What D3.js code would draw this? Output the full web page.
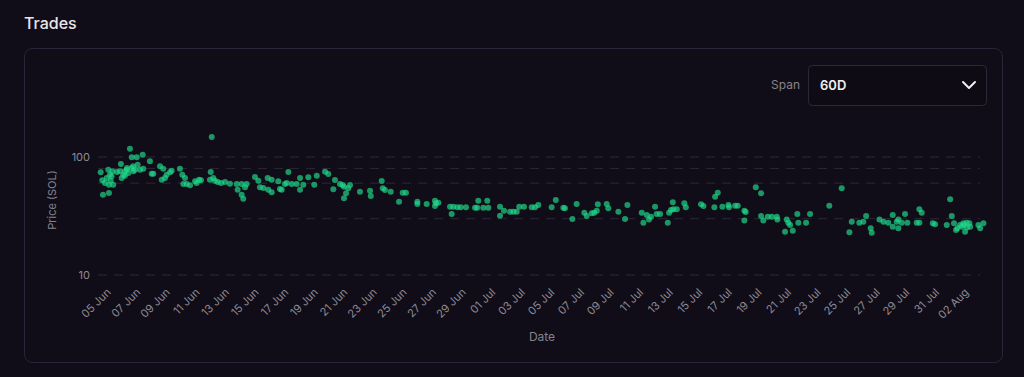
<!DOCTYPE html>
<html lang="en">
<head>
<meta charset="UTF-8">
<title>Trades</title>
<script src="https://d3js.org/d3.v7.min.js"></script>
<style>
    body { margin: 0; background: #110d18; font-family: Inter, "Noto Sans", sans-serif; }
    svg { display: block; }
    .tick text { fill: #8d8a94; font-size: 11px; font-family: Inter, sans-serif; }
    .domain { display: none; }
</style>
</head>
<body>
<svg width="1024" height="377"></svg>
<script>
    // trades: [days since 05 Jun, price in SOL]
    const startDate = new Date(2024, 5, 5);
    const trades = [
        [-0.63,74.2],[-0.52,63.5],[-0.47,47.9],[-0.07,49.5],[-0.11,78.0],[0,70.8],[-0.22,66.4],[-0.34,60.2],
        [0.11,68.6],[0.22,58.3],[0.05,63.0],[-0.07,58.3],[0.16,75.6],[0.74,87.2],[0.68,75.6],[0.79,66.4],
        [0.90,70.8],[1.01,75.6],[1.13,78.0],[1.24,73.2],[1.35,117.6],[1.47,99.4],[1.81,99.4],[1.47,80.7],
        [1.58,75.6],[1.69,78.0],[1.87,86.1],[2.03,78.0],[2.21,104.6],[2.25,79.6],[2.70,91.9],[2.82,72.2],
        [2.93,72.2],[3.38,83.4],[3.60,79.6],[3.50,64.2],[3.72,66.4],[3.83,70.8],[4.06,74.2],[4.17,76.5],
        [4.73,79.6],[4.89,70.8],[5.07,66.4],[4.96,59.0],[5.19,59.0],[5.41,57.6],[5.75,62.3],[5.86,60.2],
        [6.02,64.2],[6.15,63.5],[6.88,147.7],[6.81,74.6],[6.76,64.2],[6.98,66.4],[7.10,63.0],[7.28,61.4],
        [7.51,60.2],[7.78,61.4],[8.11,59.4],[8.57,59.0],[8.63,52.8],[8.90,47.9],[9.01,44.3],[8.90,59.0],
        [9.24,59.0],[9.13,55.4],[9.80,67.7],[10.03,63.0],[10.14,55.4],[10.37,54.6],[10.66,66.4],[10.93,64.2],
        [10.70,52.8],[10.93,50.2],[11.38,62.3],[11.49,53.6],[11.61,52.8],[11.83,59.0],[12.06,74.6],[11.95,60.2],
        [12.29,59.0],[12.62,59.0],[12.85,66.4],[12.85,52.8],[13.07,58.3],[13.41,67.3],[13.81,58.3],[13.98,69.4],
        [0.47,74.6],[1.15,80.7],[1.56,83.4],[1.01,69.4],
        [14.54,75.1],[14.76,71.8],[15.21,63.8],[15.10,53.3],[15.55,59.0],[15.73,57.9],[15.82,56.0],[16.23,57.9],
        [16.11,54.3],[15.96,49.2],[15.82,44.7],[16.90,50.8],[17.58,51.8],[17.63,46.7],[18.37,62.6],[18.44,54.3],
        [18.59,52.5],[18.98,50.8],[19.79,49.8],[20.01,49.8],[19.54,41.8],[20.78,41.8],[20.78,40.0],[21.41,40.0],
        [21.97,42.6],[22.04,40.5],[22.20,41.0],[21.97,38.4],[22.99,37.9],[23.21,37.9],[23.10,32.9],[23.48,37.5],
        [23.71,37.5],[24.07,37.5],[24.68,37.2],[24.83,37.2],[24.90,42.6],[25.24,37.2],[25.51,42.6],[25.58,37.2],
        [26.37,37.9],[26.37,31.8],[26.64,35.1],[27.05,34.4],[27.27,34.4],[27.50,34.4],[27.67,37.9],[27.99,37.9],
        [28.51,37.5],[28.74,37.5],[28.96,39.2],
        [29.86,37.5],[30.14,43.2],[30.65,37.2],[30.76,36.7],[31.26,29.8],[31.55,40.0],[32.07,33.7],[32.23,31.6],
        [32.57,33.3],[32.74,33.7],[32.91,35.1],[32.98,39.7],[33.58,40.0],[33.69,36.7],[34.37,34.4],[34.82,29.8],
        [34.98,39.2],[35.95,33.7],[36.06,27.7],[36.29,32.3],[36.44,29.6],[36.58,31.2],[36.85,37.9],[36.96,32.9],
        [37.19,32.9],[37.71,27.7],[37.80,33.7],[37.93,35.6],[38.09,36.1],[38.05,41.3],[38.32,36.1],[38.83,40.5],
        [38.93,37.5],[39.96,39.7],[40.12,38.4],[40.86,37.5],[40.91,46.1],[41.09,49.8],[41.40,37.9],[41.81,39.2],
        [41.85,37.5],[42.26,38.7],[42.44,38.7],[42.89,35.1],[42.98,34.2],[42.89,28.9],[43.66,55.4],[44.02,49.2],
        [44.02,31.6],[44.17,28.9],[44.47,31.2],
        [44.74,31.2],[45.08,31.2],[45.12,29.6],[45.75,29.6],[45.86,27.7],[45.98,26.5],[45.64,23.3],[46.16,23.7],
        [46.47,32.9],[46.54,27.7],[47.06,27.7],[47.33,32.9],[48.63,38.7],[49.47,54.3],[50.15,28.3],[49.99,23.0],
        [50.66,27.7],[50.93,28.3],[51.12,31.6],[51.43,24.9],[51.50,22.8],[52.02,29.6],[52.29,28.3],[52.62,27.7],
        [52.92,32.3],[52.92,25.7],[53.19,28.3],[53.30,29.6],[53.30,24.9],[53.53,27.7],[53.75,32.9],[53.91,27.7],
        [54.54,27.7],[54.72,36.1],[54.88,33.7],[54.72,27.7],[55.63,27.4],[55.78,26.9],[56.57,26.5],[56.80,43.8],
        [56.91,31.6],[57.06,27.4],[57.20,24.1],[57.47,26.5],[57.69,27.4],[57.92,27.7],[58.10,27.4],[57.81,23.3],
        [57.59,25.7],[58.15,25.7],[58.71,26.5],[58.83,24.9],[59.05,27.4],[57.74,26.5],[57.94,25.3],[57.29,24.9]
    ];
    const yTickValues = [10, 100];
    const gridValues = [10, 30, 60, 80, 100];
    const spanLabel = "60D";

    const svg = d3.select("svg");

    // title + card
    svg.append("text").attr("x", 24).attr("y", 29)
        .attr("fill", "#e8e6ec").attr("font-size", 16).attr("font-weight", 500)
        .text("Trades");
    svg.append("rect").attr("x", 24.5).attr("y", 48.5).attr("width", 978).attr("height", 314)
        .attr("rx", 8).attr("fill", "#110d18").attr("stroke", "#29253a");

    // span selector
    svg.append("text").attr("x", 800).attr("y", 89).attr("text-anchor", "end")
        .attr("fill", "#85828d").attr("font-size", 12).text("Span");
    svg.append("rect").attr("x", 808.5).attr("y", 65.5).attr("width", 178).attr("height", 40)
        .attr("rx", 4).attr("fill", "#0f0b15").attr("stroke", "#2c2838");
    svg.append("text").attr("x", 820).attr("y", 90)
        .attr("fill", "#f0eef3").attr("font-size", 13).attr("font-weight", 600).text(spanLabel);
    svg.append("path").attr("d", "M963,82 L969,88 L975,82")
        .attr("fill", "none").attr("stroke", "#f0eef3").attr("stroke-width", 2)
        .attr("stroke-linecap", "round").attr("stroke-linejoin", "round");

    // scales
    const toDate = d => new Date(startDate.getTime() + d * 864e5);
    const x = d3.scaleTime()
        .domain([toDate(-0.81), toDate(59.36)])
        .range([98, 988]);
    const y = d3.scaleLog()
        .domain([10, 100])
        .range([275, 157]);

    // grid
    svg.append("g").selectAll("line").data(gridValues).join("line")
        .attr("x1", 98).attr("x2", 980)
        .attr("y1", d => y(d)).attr("y2", d => y(d))
        .attr("stroke", "#2b2737").attr("stroke-dasharray", "9,7");

    // axes
    const tickDates = d3.timeDay.range(startDate, toDate(59), 2);
    const xAxis = svg.append("g")
        .attr("transform", "translate(0,275)")
        .call(d3.axisBottom(x).tickValues(tickDates).tickFormat(d3.timeFormat("%d %b")).tickSize(0));
    xAxis.selectAll(".tick text")
        .attr("text-anchor", "end")
        .attr("x", 0).attr("y", 0).attr("dy", null)
        .attr("transform", "translate(1,18) rotate(-45)");

    svg.append("g")
        .attr("transform", "translate(98,0)")
        .call(d3.axisLeft(y).tickValues(yTickValues).tickFormat(d3.format("d")).tickSize(0).tickPadding(8));

    svg.append("text").attr("transform", "translate(56,200) rotate(-90)")
        .attr("text-anchor", "middle").attr("fill", "#85828d").attr("font-size", 11)
        .text("Price (SOL)");
    svg.append("text").attr("x", 542).attr("y", 341).attr("text-anchor", "middle")
        .attr("fill", "#85828d").attr("font-size", 12).text("Date");

    // dots
    svg.append("g").selectAll("circle").data(trades).join("circle")
        .attr("cx", d => x(toDate(d[0])))
        .attr("cy", d => y(d[1]))
        .attr("r", 3)
        .attr("fill", "#1fd98a")
        .attr("fill-opacity", 0.68);
</script>
</body>
</html>
